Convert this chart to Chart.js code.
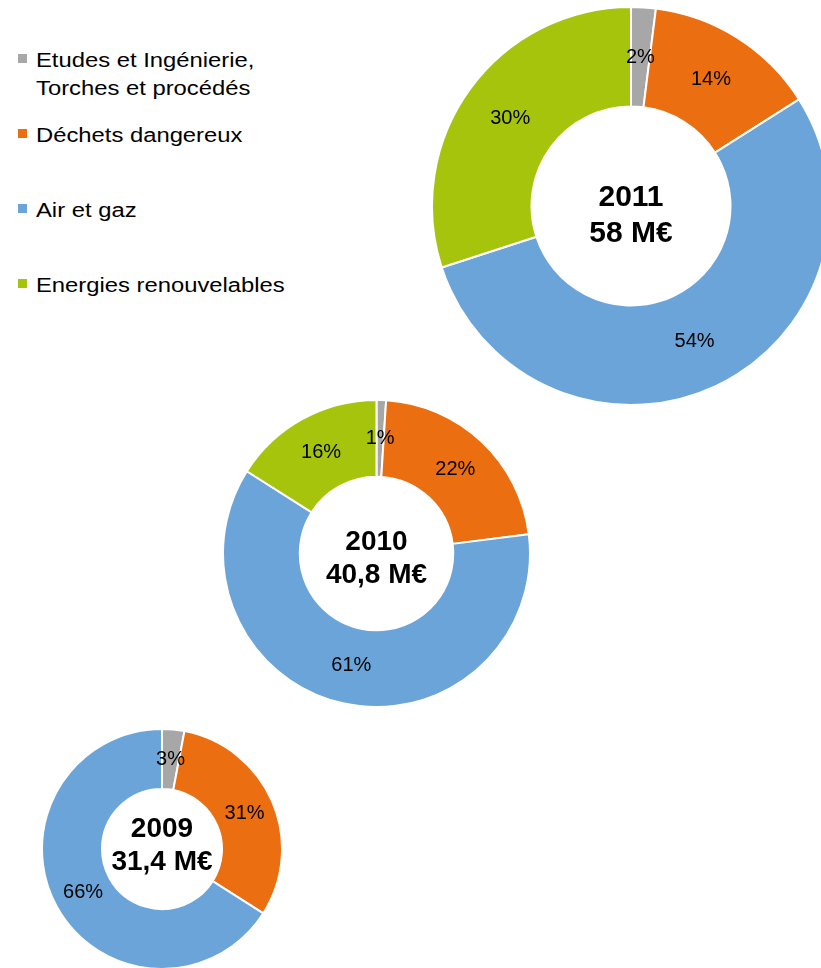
<!DOCTYPE html>
<html>
<head>
<meta charset="utf-8">
<script src="https://cdn.jsdelivr.net/npm/chart.js@4/dist/chart.umd.min.js"></script>
<style>
  html, body { margin: 0; padding: 0; background: #fff; }
  body { width: 821px; height: 968px; position: relative; overflow: hidden; font-family: "Liberation Sans", Arial, sans-serif; }
  canvas { position: absolute; }
  .item { position: absolute; left: 0; font-size: 20px; line-height: 28px; color: #000; white-space: nowrap; }
  .item .box { position: absolute; left: 18px; top: 8px; width: 9px; height: 9px; }
  .item .txt { position: absolute; left: 36px; top: 0; transform: scaleX(1.19); transform-origin: left top; }
</style>
</head>
<body>
<div id="legend"></div>
<canvas id="c2011"></canvas>
<canvas id="c2010"></canvas>
<canvas id="c2009"></canvas>
<script>
// categories (legend order = slice order, clockwise from 12 o'clock)
const categories = [
  ['Etudes et Ingénierie,', 'Torches et procédés'],
  'Déchets dangereux',
  'Air et gaz',
  'Energies renouvelables'
];
const colors = ['#a7a7a7', '#eb6e10', '#6ba4d8', '#a6c40c'];

const years = ['2011', '2010', '2009'];
const totals = ['58 M€', '40,8 M€', '31,4 M€'];

// shares in %
const share2011 = [2, 14, 54, 30];
const share2010 = [1, 22, 61, 16];
const share2009 = [3, 31, 66, 0];

// layout of each ring: centre and outer radius in page pixels
const rings = [
  { id: 'c2011', data: share2011, cx: 631, cy: 206, r: 199, title: 30, shift: 0, gap: 36 },
  { id: 'c2010', data: share2010, cx: 376.5, cy: 553.5, r: 153.5, title: 28, shift: -4, gap: 33 },
  { id: 'c2009', data: share2009, cx: 162, cy: 849, r: 120, title: 28, shift: -12, gap: 33 }
];

// legend
const legendTops = [46, 121, 196, 271];
const legend = document.getElementById('legend');
categories.forEach((cat, i) => {
  const div = document.createElement('div');
  div.className = 'item';
  div.style.top = legendTops[i] + 'px';
  const box = document.createElement('span');
  box.className = 'box';
  box.style.background = colors[i];
  const txt = document.createElement('span');
  txt.className = 'txt';
  txt.innerHTML = [].concat(cat).join('<br>');
  div.appendChild(box);
  div.appendChild(txt);
  legend.appendChild(div);
});

// percent labels on the slices + year/total in the hole
const ringLabels = {
  id: 'ringLabels',
  afterDatasetsDraw(chart, args, opts) {
    const ctx = chart.ctx;
    const meta = chart.getDatasetMeta(0);
    const values = chart.data.datasets[0].data;
    ctx.save();
    ctx.fillStyle = '#000';
    ctx.textAlign = 'center';
    ctx.textBaseline = 'middle';
    ctx.font = '20px "Liberation Sans", Arial, sans-serif';
    meta.data.forEach((arc, i) => {
      if (!values[i]) return;
      const p = arc.tooltipPosition();
      ctx.fillText(values[i] + '%', p.x, p.y);
    });
    const c = meta.data[0];
    ctx.textBaseline = 'alphabetic';
    ctx.font = 'bold ' + opts.size + 'px "Liberation Sans", Arial, sans-serif';
    opts.lines.forEach((line, k) => {
      ctx.fillText(line, c.x, c.y + opts.shift + k * opts.gap);
    });
    ctx.restore();
  }
};

const borderW = 2;
rings.forEach((ring, n) => {
  const size = ring.r * 2 + borderW;
  const cv = document.getElementById(ring.id);
  cv.width = size;
  cv.height = size;
  cv.style.left = (ring.cx - size / 2) + 'px';
  cv.style.top = (ring.cy - size / 2) + 'px';
  new Chart(cv.getContext('2d'), {
    type: 'doughnut',
    data: {
      labels: categories,
      datasets: [{
        data: ring.data,
        backgroundColor: colors,
        borderColor: '#ffffff',
        borderWidth: borderW
      }]
    },
    options: {
      responsive: false,
      animation: false,
      cutout: '50%',
      layout: { padding: 0 },
      plugins: {
        legend: { display: false },
        tooltip: { enabled: false },
        ringLabels: { lines: [years[n], totals[n]], size: ring.title, shift: ring.shift, gap: ring.gap }
      }
    },
    plugins: [ringLabels]
  });
});
</script>
</body>
</html>
